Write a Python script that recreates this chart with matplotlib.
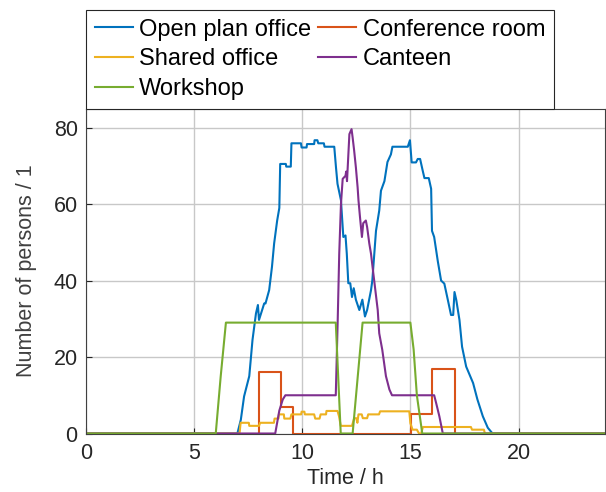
import matplotlib
matplotlib.use("Agg")
import matplotlib.pyplot as plt

plt.rcParams["font.family"] = ["Liberation Sans", "DejaVu Sans"]

# (time in h, number of persons) knots
open_plan = [(0, 0), (7.0, 0), (7.16, 3.6), (7.31, 9.7), (7.55, 15), (7.7, 24.5), (7.86, 31.4),
             (7.95, 33.6), (8.0, 29.7), (8.24, 34), (8.3, 34), (8.47, 37.5), (8.6, 43.6), (8.7, 49.7),
             (8.84, 55.7), (8.94, 59), (8.98, 70.5), (9.24, 70.5), (9.26, 69.8), (9.47, 69.8),
             (9.5, 75.9), (9.94, 75.9), (9.97, 74.8), (10.2, 74.8), (10.22, 75.7), (10.55, 75.7),
             (10.57, 76.7), (10.7, 76.7), (10.74, 75.9), (11.0, 75.9), (11.03, 75), (11.48, 75),
             (11.56, 69.6), (11.63, 65.3), (11.79, 61), (11.85, 55.7), (11.9, 51.4), (12.0, 51.8),
             (12.06, 47), (12.13, 39.3), (12.22, 39.3), (12.3, 35.7), (12.38, 38), (12.48, 35),
             (12.64, 32.3), (12.78, 35), (12.9, 30.6), (13.0, 32.3), (13.18, 37.5), (13.24, 40),
             (13.41, 53), (13.56, 58.3), (13.64, 63.5), (13.8, 66), (13.94, 71), (14.1, 73),
             (14.17, 75), (14.88, 75), (14.98, 76.7), (15.06, 70.9), (15.26, 70.9), (15.34, 71.8),
             (15.45, 71.8), (15.57, 68.75), (15.65, 66.8), (15.85, 66.8), (15.96, 64), (16.0, 53),
             (16.1, 51.4), (16.27, 45), (16.42, 40), (16.57, 39.2), (16.73, 35), (16.88, 31),
             (16.98, 31), (17.04, 37), (17.12, 35), (17.27, 29.7), (17.39, 22.7), (17.58, 17.5),
             (17.9, 13.2), (18.1, 8.9), (18.35, 4.5), (18.58, 1.5), (18.8, 0), (24, 0)]

conference = [(0, 0), (8.02, 0), (8.02, 16), (9.0, 16), (9.0, 7), (9.55, 7), (9.55, 0),
              (15.05, 0), (15.05, 5), (16.0, 5), (16.0, 17), (17.05, 17), (17.05, 0), (24, 0)]

shared = [(0, 0), (7.1, 0), (7.15, 2.8), (7.53, 2.8), (7.55, 2.0), (8.0, 2.0), (8.05, 2.8),
          (8.69, 2.8), (8.72, 3.9), (8.9, 3.9), (8.92, 5), (9.15, 5), (9.17, 3.9), (9.45, 3.9),
          (9.5, 5), (9.95, 5), (9.97, 5.7), (10.1, 5.7), (10.12, 5), (10.55, 5), (10.6, 3.9),
          (10.8, 3.9), (10.85, 5), (11.1, 5), (11.12, 5.9), (11.63, 5.9), (11.7, 4.5), (11.78, 2),
          (12.3, 2), (12.4, 4), (12.5, 4), (12.55, 2.8), (12.6, 5), (12.75, 5), (12.8, 4),
          (13.0, 4), (13.05, 5), (13.55, 5), (13.6, 5.8), (14.95, 5.8), (15.0, 2.7), (15.1, 1),
          (15.3, 1), (15.4, 0), (15.5, 0), (15.58, 1.7), (17.8, 1.7), (17.85, 1), (18.4, 1),
          (18.45, 0), (24, 0)]

canteen = [(0, 0), (8.75, 0), (8.94, 6), (9.1, 8.9), (9.22, 10), (11.55, 10), (11.64, 29.7),
           (11.71, 47), (11.79, 60), (11.87, 66.6), (12.0, 67.4), (12.03, 68.5), (12.07, 66),
           (12.18, 78.3), (12.28, 79.6), (12.33, 77.4), (12.4, 74), (12.48, 69.6), (12.56, 64.4),
           (12.6, 61), (12.67, 56.6), (12.76, 51.4), (12.82, 55), (12.94, 55.7), (13.0, 54),
           (13.1, 49.7), (13.18, 47), (13.25, 43.6), (13.38, 37.5), (13.49, 32.3), (13.56, 26.2),
           (13.7, 21.9), (13.87, 15), (14.03, 11.5), (14.15, 10), (16.1, 10), (16.19, 8),
           (16.34, 4.5), (16.5, 0), (24, 0)]

workshop = [(0, 0), (6.0, 0), (6.23, 15), (6.47, 29), (11.55, 29), (11.78, 0), (12.33, 0),
            (12.79, 29), (15.0, 29), (15.15, 22), (15.3, 10), (15.55, 0), (24, 0)]

labels = ["Open plan office", "Conference room", "Shared office", "Canteen", "Workshop"]
colors = ["#0072BD", "#D95319", "#EDB120", "#7E2F8E", "#77AC30"]
series = [open_plan, conference, shared, canteen, workshop]

fig = plt.figure(figsize=(6.06, 4.92), dpi=100)
ax = fig.add_axes([86 / 606, 1 - 433.5 / 492, 519 / 606, 325 / 492])

handles = []
for data, lab, col in zip(series, labels, colors):
    t = [p[0] for p in data]
    v = [p[1] for p in data]
    h, = ax.plot(t, v, color=col, lw=1.5, label=lab)
    handles.append(h)

ax.set_xlim(0, 24)
ax.set_ylim(0, 85)
ax.set_xticks([0, 5, 10, 15, 20])
ax.set_yticks([0, 20, 40, 60, 80])
ax.grid(True, color="#c8c8c8", lw=1.0)
ax.set_axisbelow(True)
ax.tick_params(direction="in", length=4, labelsize=15.5, colors="#262626")
ax.tick_params(axis="x", pad=7)
ax.tick_params(axis="y", pad=6)
for s in ax.spines.values():
    s.set_color("#404040")
    s.set_linewidth(0.8)

ax.set_xlabel("Time / h", fontsize=15.5, color="#262626", labelpad=3)
ax.set_ylabel("Number of persons / 1", fontsize=15.5, color="#404040", labelpad=12)

# legend: row-major like the original (two columns)
order = [0, 2, 4, 1, 3]
leg = fig.legend([handles[i] for i in order], [labels[i] for i in order],
                 loc="upper left", ncol=2,
                 bbox_to_anchor=(86 / 606, 1 - 10 / 492),
                 borderaxespad=0, fontsize=17, frameon=True, fancybox=False,
                 handlelength=1.6, handletextpad=0.28, columnspacing=0.3,
                 labelspacing=0.32, borderpad=0.37)
leg.get_frame().set_edgecolor("#262626")
leg.get_frame().set_linewidth(0.8)
leg.get_frame().set_alpha(1)

fig.savefig("out.png", dpi=100)
